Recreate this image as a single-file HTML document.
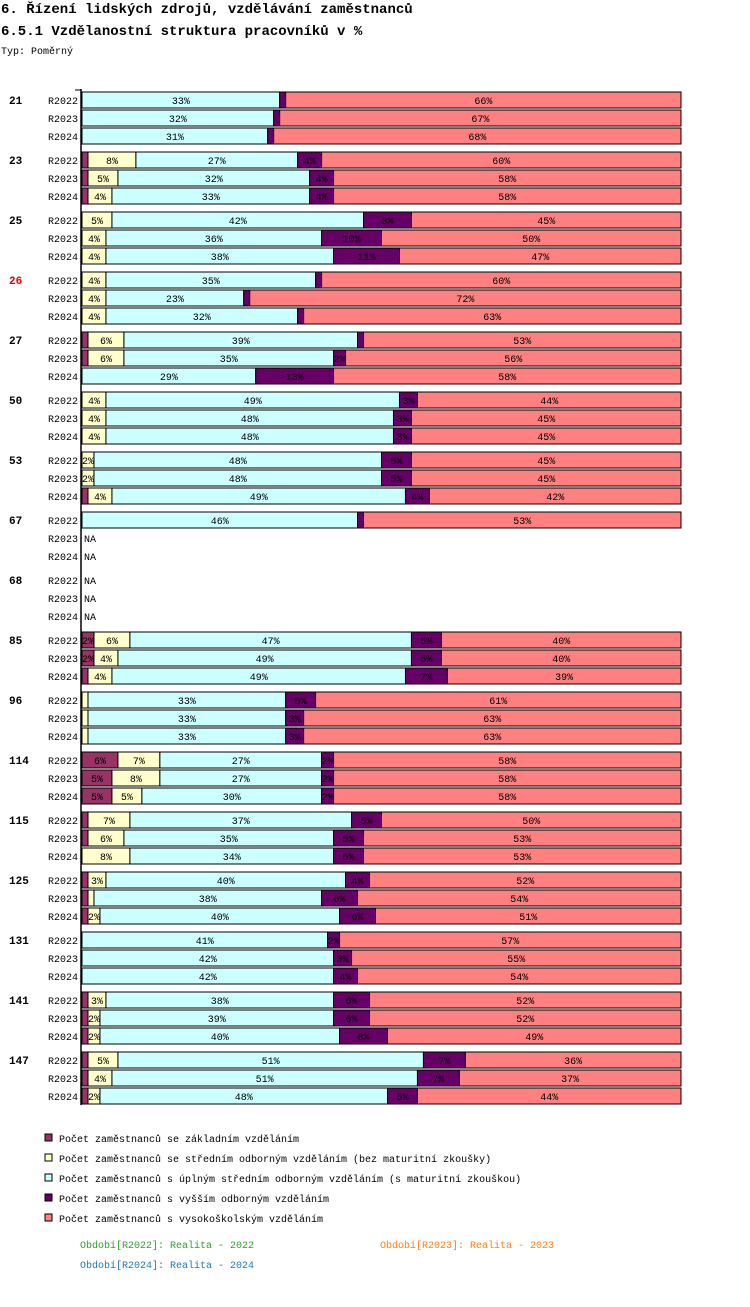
<!DOCTYPE html>
<html><head><meta charset="utf-8"><style>
body{margin:0;background:#fff;}
svg text{font-family:"Liberation Mono",monospace;}
</style></head><body>
<svg width="750" height="1302" xmlns="http://www.w3.org/2000/svg" id="chart">
<text x="1" y="13" font-size="14" font-weight="bold">6. Řízení lidských zdrojů, vzdělávání zaměstnanců</text>
<text x="1" y="35" font-size="14" font-weight="bold">6.5.1 Vzdělanostní struktura pracovníků v %</text>
<text x="1" y="54" font-size="10">Typ: Poměrný</text>
<g id="bars"></g>
<line x1="81" y1="89" x2="81" y2="1105" stroke="#000" stroke-width="1.5"/>
<line x1="75" y1="90" x2="81" y2="90" stroke="#000"/>
<g id="legend"></g>
<text x="80" y="1248" font-size="10" fill="#2ca02c">Období[R2022]: Realita - 2022</text>
<text x="380" y="1248" font-size="10" fill="#ff7f0e">Období[R2023]: Realita - 2023</text>
<text x="80" y="1268" font-size="10" fill="#1f77b4">Období[R2024]: Realita - 2024</text>
</svg>
<script>
const groups=["21","23","25","26","27","50","53","67","68","85","96","114","115","125","131","141","147"];
const periods=["R2022","R2023","R2024"];
const seriesNames=["Počet zaměstnanců se základním vzděláním","Počet zaměstnanců se středním odborným vzděláním (bez maturitní zkoušky)","Počet zaměstnanců s úplným středním odborným vzděláním (s maturitní zkouškou)","Počet zaměstnanců s vyšším odborným vzděláním","Počet zaměstnanců s vysokoškolským vzděláním"];
const colors=["#993366","#FFFFCC","#CCFFFF","#660066","#FF8080"];
const textColors=["#fff","#000","#000","#fff","#000"];
const values=[
[[0,0,33,1,66],[0,0,32,1,67],[0,0,31,1,68]],
[[1,8,27,4,60],[1,5,32,4,58],[1,4,33,4,58]],
[[0,5,42,8,45],[0,4,36,10,50],[0,4,38,11,47]],
[[0,4,35,1,60],[0,4,23,1,72],[0,4,32,1,63]],
[[1,6,39,1,53],[1,6,35,2,56],[0,0,29,13,58]],
[[0,4,49,3,44],[0,4,48,3,45],[0,4,48,3,45]],
[[0,2,48,5,45],[0,2,48,5,45],[1,4,49,4,42]],
[[0,0,46,1,53],null,null],
[null,null,null],
[[2,6,47,5,40],[2,4,49,5,40],[1,4,49,7,39]],
[[0,1,33,5,61],[0,1,33,3,63],[0,1,33,3,63]],
[[6,7,27,2,58],[5,8,27,2,58],[5,5,30,2,58]],
[[1,7,37,5,50],[1,6,35,5,53],[0,8,34,5,53]],
[[1,3,40,4,52],[1,1,38,6,54],[1,2,40,6,51]],
[[0,0,41,2,57],[0,0,42,3,55],[0,0,42,4,54]],
[[1,3,38,6,52],[1,2,39,6,52],[1,2,40,8,49]],
[[1,5,51,7,36],[1,4,51,7,37],[1,2,48,5,44]]
];
const NS="http://www.w3.org/2000/svg";
const X0=82, W=599;
function xs(p){return X0+p/100*W;}
function rowY(g,r){return 100+60*g+18*r;}
const bars=document.getElementById('bars');
function mk(tag,attrs,parent){const e=document.createElementNS(NS,tag);for(const k in attrs)e.setAttribute(k,attrs[k]);parent.appendChild(e);return e;}
groups.forEach((gname,gi)=>{
  const gl=mk('text',{x:9,y:rowY(gi,0)+4,'font-size':11,'font-weight':'bold',fill:gname==="26"?"#e00000":"#000"},bars);
  
  
  gl.textContent=gname;
  periods.forEach((p,ri)=>{
    const cy=rowY(gi,ri);
    const pl=mk('text',{x:78,y:cy+4,'font-size':10,'text-anchor':'end'},bars);
    
    
    pl.textContent=p;
    const v=values[gi][ri];
    if(!v){
      const na=mk('text',{x:84,y:cy+4,'font-size':10},bars);
      
      
      na.textContent="NA";
      return;
    }
    const tot=v.reduce((a,b)=>a+b,0);
    let acc=0;
    v.forEach((val,si)=>{
      if(val<=0)return;
      const x1=xs(acc/tot*100), x2=xs((acc+val)/tot*100);
      acc+=val;
      const r=mk('rect',{x:x1,y:cy-8,width:x2-x1,height:16,fill:colors[si],stroke:'#000','stroke-width':1},bars);
      
      
      if(x2-x1>=10){
        const t=mk('text',{x:(x1+x2)/2,y:cy+4,'font-size':10,'text-anchor':'middle',fill:textColors[si]==='#fff'?'#000':'#000'},bars);
        
        
        t.textContent=val+"%";
      }
    });
  });
});
const lg=document.getElementById('legend');
seriesNames.forEach((n,i)=>{
  const y=1138+20*i;
  const s=mk('rect',{x:45,y:y-4,width:7,height:7,fill:colors[i],stroke:'#000'},lg);
  
  
  const t=mk('text',{x:59,y:y+4,'font-size':10},lg);
  
  
  t.textContent=n;
});
</script>
</body></html>
